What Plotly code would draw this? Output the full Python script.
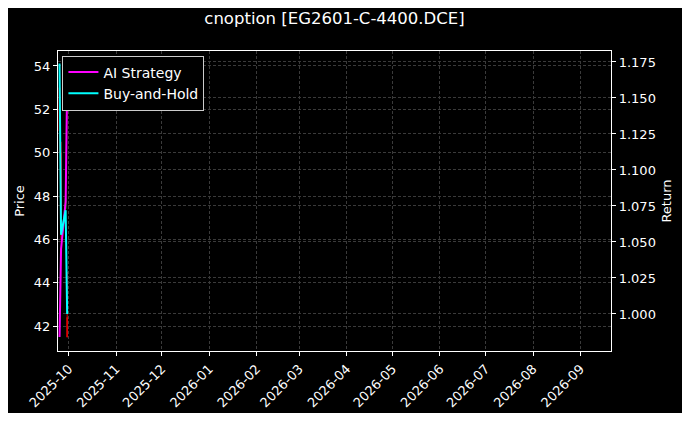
import plotly.graph_objects as go

# daily data (only a handful of sessions plotted on a one-year axis)
dates = ["2025-09-25", "2025-09-26", "2025-09-29", "2025-09-30"]
price_open = [53.0, 50.0, 47.4, 42.4]
price_high = [54.06, 50.5, 48.0, 44.5]
price_low = [50.0, 46.0, 47.2, 41.48]
price_close = [51.0, 47.0, 47.9, 41.5]
ai_strategy = [0.984, 1.045, 1.078, 1.16]
buy_and_hold = [1.174, 1.055, 1.072, 1.0]

fig = go.Figure()

# price candles on left axis
fig.add_trace(go.Candlestick(x=dates, open=price_open, high=price_high, low=price_low, close=price_close,
                             increasing=dict(line=dict(color="#00a000", width=1), fillcolor="#00a000"),
                             decreasing=dict(line=dict(color="#e00000", width=1), fillcolor="#e00000"),
                             showlegend=False, yaxis="y"))

# returns on right axis
fig.add_trace(go.Scatter(x=dates, y=ai_strategy, mode="lines", name="AI Strategy",
                         line=dict(color="#ff00ff", width=2), yaxis="y2"))
fig.add_trace(go.Scatter(x=dates, y=buy_and_hold, mode="lines", name="Buy-and-Hold",
                         line=dict(color="#00ffff", width=2), yaxis="y2"))

font = dict(family="DejaVu Sans", size=13, color="white")
grid = dict(showgrid=True, gridcolor="#3a3a3a", griddash="3px,2px", gridwidth=0.8)

# page body adds 8px around the figure, so the figure is a bit smaller than the window
W, H = 674, 405
fig.update_layout(
    width=W, height=H,
    paper_bgcolor="black", plot_bgcolor="black",
    font=font,
    margin=dict(l=50, r=71, t=43, b=62),
    title=dict(text="cnoption [EG2601-C-4400.DCE]", x=(50 + 603) / 2 / W, xanchor="center",
               y=1 - 10 / H, yanchor="middle", font=dict(family="DejaVu Sans", size=16.5, color="white")),
    xaxis=dict(type="date", range=["2025-09-24", "2026-09-21"], tick0="2025-10-01", dtick="M1",
               tickformat="%Y-%m", tickangle=-45, ticks="outside", ticklen=4, tickcolor="white",
               showline=True, linecolor="white", linewidth=1.2, mirror=True, automargin=False,
               rangeslider=dict(visible=False), **grid),
    yaxis=dict(title=dict(text="Price", standoff=6, font=font), range=[40.85, 54.69],
               tickvals=[42, 44, 46, 48, 50, 52, 54], automargin=False,
               ticks="outside", ticklen=4, tickcolor="white",
               showline=True, linecolor="white", linewidth=1.2, zeroline=False, **grid),
    yaxis2=dict(title=dict(text="Return", standoff=6, font=font), overlaying="y", side="right", anchor="x",
                range=[0.9743, 1.1826], tickvals=[1.0, 1.025, 1.05, 1.075, 1.1, 1.125, 1.15, 1.175],
                tickformat=".3f", ticks="outside", ticklen=4, tickcolor="white", automargin=False,
                showline=True, linecolor="white", linewidth=1.2, zeroline=False, **grid),
    legend=dict(x=0.008, y=0.985, xanchor="left", yanchor="top", bgcolor="black",
                bordercolor="#cccccc", borderwidth=1, font=dict(family="DejaVu Sans", size=14, color="white"),
                tracegroupgap=0, itemwidth=30),
)

fig.write_html("out.html")
